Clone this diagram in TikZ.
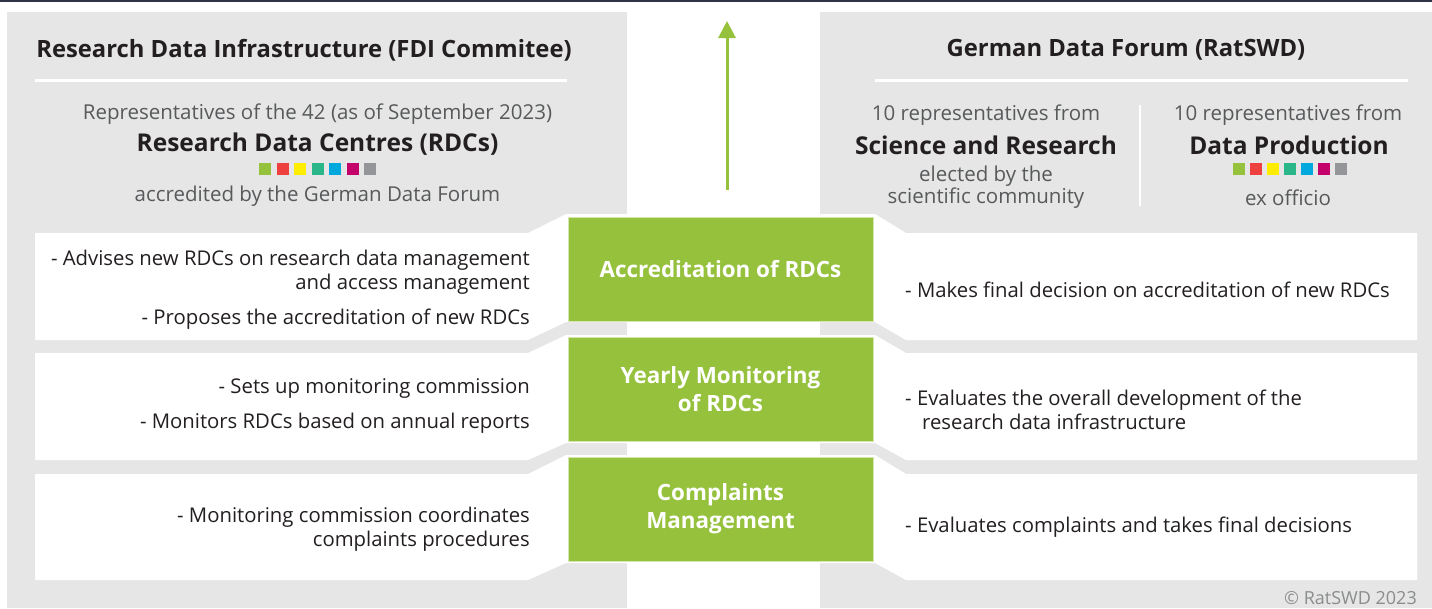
\documentclass[tikz,border=0pt]{standalone}
\usepackage{fontspec}
\setmainfont{Open Sans}
\usetikzlibrary{arrows.meta}

\definecolor{panelgray}{HTML}{E5E6E5}
\definecolor{ratgreen}{HTML}{95C13D}
\definecolor{txtdark}{HTML}{231F20}
\definecolor{txtgray}{HTML}{58595B}
\definecolor{topline}{HTML}{2E3446}
\definecolor{sqred}{HTML}{EF4040}
\definecolor{sqyellow}{HTML}{FFED00}
\definecolor{sqteal}{HTML}{2BB68A}
\definecolor{sqblue}{HTML}{00A8DE}
\definecolor{sqmagenta}{HTML}{C4006B}
\definecolor{sqgray}{HTML}{939598}
\definecolor{copygray}{HTML}{8A8C8E}

\tikzset{
  headtext/.style={text=txtdark, font=\fontsize{23.8}{28}\selectfont\bfseries, inner sep=0pt},
  subtext/.style={text=txtgray, font=\fontsize{20.5}{24}\selectfont, inner sep=0pt},
  bigtext/.style={text=txtdark, font=\fontsize{24.5}{28}\selectfont\bfseries, inner sep=0pt},
  bodytext/.style={text=txtdark, font=\fontsize{20.3}{24}\selectfont, inner sep=0pt},
  greenbox/.style={fill=ratgreen, draw=ratgreen!40!white, line width=1pt, text=white,
    font=\fontsize{22.4}{28}\selectfont\bfseries, align=center,
    minimum width=305, minimum height=104, inner sep=0pt},
  whiteline/.style={draw=white, line width=3pt},
}

\begin{document}
\begin{tikzpicture}[x=1pt,y=-1pt]
\useasboundingbox (0,0) rectangle (1432,608);

% panels
\fill[topline] (0,0) rectangle (1432,2);
\fill[panelgray] (7,12) rectangle (627,608);
\fill[panelgray] (820,12) rectangle (1432,608);

% left header
\node[headtext] (fdititle) at (304,50) {Research Data Infrastructure (FDI Commitee)};
\draw[whiteline] (35,80) -- (567,80);
\node[subtext] (fdirep) at (317.5,114) {Representatives of the 42 (as of September 2023)};
\node[bigtext] (fdirdc) at (317.5,144) {Research Data Centres (RDCs)};
\foreach \c [count=\i] in {ratgreen,sqred,sqyellow,sqteal,sqblue,sqmagenta,sqgray}
  \fill[\c] ({259+(\i-1)*17.5},163) rectangle +(12,12);
\node[subtext] (fdiacc) at (317.5,196) {accredited by the German Data Forum};

% right header
\node[headtext] (rattitle) at (1126,50) {German Data Forum (RatSWD)};
\draw[whiteline] (875,80) -- (1408,80);
\draw[draw=white, line width=2pt] (1140,105) -- (1140,206);
\node[subtext] (sciRep) at (986,115) {10 representatives from};
\node[bigtext] (sciName) at (986,145) {Science and Research};
\node[subtext] (sciEl1) at (986,176) {elected by the};
\node[subtext] (sciEl2) at (986,198) {scientific community};
\node[subtext] (prodRep) at (1288,115) {10 representatives from};
\node[bigtext] (prodName) at (1289,145) {Data Production};
\foreach \c [count=\i] in {ratgreen,sqred,sqyellow,sqteal,sqblue,sqmagenta,sqgray}
  \fill[\c] ({1233+(\i-1)*17},163) rectangle +(12,12);
\node[subtext] (prodEx) at (1288,198) {ex officio};

% arrow
\coordinate (arrbot) at (727,190);
\coordinate (arrtop) at (727,21);
\draw[ratgreen, line width=3pt, -{Triangle[width=17pt,length=17pt]}] (arrbot) -- (arrtop);

% white rows
\fill[white] (35,233) -- (528,233) -- (566,214) -- (875,214) -- (906,233) -- (1417,233)
  -- (1417,340) -- (906,340) -- (875,322) -- (566,322) -- (528,340) -- (35,340) -- cycle;
\fill[white] (35,353) -- (528,353) -- (566,335) -- (875,335) -- (906,353) -- (1417,353)
  -- (1417,460) -- (906,460) -- (875,443) -- (566,443) -- (528,460) -- (35,460) -- cycle;
\fill[white] (35,474) -- (528,474) -- (566,455) -- (875,455) -- (906,474) -- (1417,474)
  -- (1417,580) -- (906,580) -- (875,563) -- (566,563) -- (528,580) -- (35,580) -- cycle;

% green boxes
\node[greenbox] (accr) at (720.5,269) {Accreditation of RDCs};
\node[greenbox] (monit) at (720.5,389) {Yearly Monitoring\\of RDCs};
\node[greenbox] (compl) at (720.5,509) {Complaints\\Management};

% left texts
\node[bodytext, anchor=east, align=right] (accrL) at (530,290)
  {- Advises new RDCs on research data management\\and access management\\[11pt]- Proposes the accreditation of new RDCs};
\node[bodytext, anchor=east, align=right] (monitL) at (530,406)
  {- Sets up monitoring commission\\[11pt]- Monitors RDCs based on annual reports};
\node[bodytext, anchor=east, align=right] (complL) at (530,529)
  {- Monitoring commission coordinates\\complaints procedures};

% right texts
\node[bodytext, anchor=west, align=left] (accrR) at (905,290)
  {- Makes final decision on accreditation of new RDCs};
\node[bodytext, anchor=west, align=left] (monitR) at (905,410)
  {- Evaluates the overall development of the\\\hspace*{17pt}research data infrastructure};
\node[bodytext, anchor=west, align=left] (complR) at (905,527)
  {- Evaluates complaints and takes final decisions};

\node[text=copygray, font=\fontsize{18}{22}\selectfont, anchor=east, inner sep=0pt] (copy) at (1417,598) {\copyright{} RatSWD 2023};

\end{tikzpicture}
\end{document}
